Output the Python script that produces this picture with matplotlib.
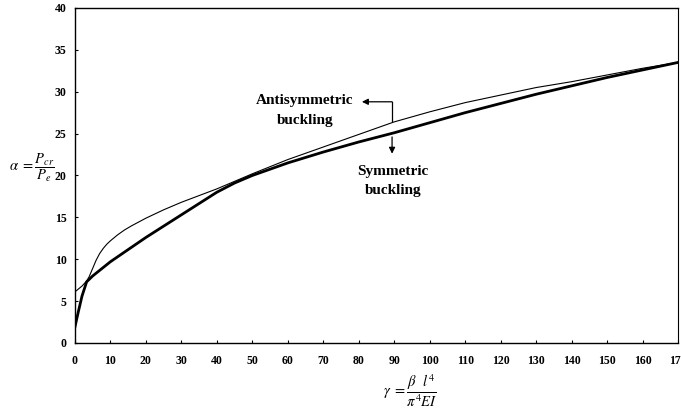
import numpy as np
import matplotlib.pyplot as plt

# symmetric buckling (thick curve)
gamma_sym = [0, 1, 2, 3.3, 5, 10, 20, 30, 40, 45, 50, 60, 70, 80, 90, 100, 110, 120, 130, 140, 150, 160, 170]
alpha_sym = [1.9, 3.8, 5.6, 7.3, 8.0, 9.7, 12.6, 15.3, 18.0, 19.1, 20.0, 21.5, 22.8, 24.0, 25.1, 26.3, 27.5,
             28.6, 29.7, 30.7, 31.7, 32.6, 33.5]

# antisymmetric buckling (thin curve)
gamma_anti = [0, 2, 3.3, 4, 5, 6, 7, 8, 9, 10, 12, 14, 16, 20, 25, 30, 35, 40, 50, 60, 70, 80, 90,
              100, 110, 120, 130, 140, 150, 160, 170]
alpha_anti = [6.1, 6.8, 7.4, 7.9, 8.9, 9.9, 10.7, 11.3, 11.8, 12.2, 12.9, 13.5, 14.0, 14.9, 15.9, 16.8,
              17.6, 18.4, 20.2, 21.9, 23.4, 24.9, 26.4, 27.6, 28.7, 29.6, 30.5, 31.2, 32.0, 32.8, 33.5]

x_ticks = list(range(0, 171, 10))
y_ticks = list(range(0, 41, 5))

tick_font = {'family': 'Liberation Serif', 'weight': 'bold', 'size': 8.5}
note_font = {'family': 'Liberation Serif', 'weight': 'bold', 'size': 11}
plt.rcParams['mathtext.fontset'] = 'stix'

fig = plt.figure(figsize=(6.81, 4.12), dpi=100)
ax = fig.add_axes([0.110, 0.1675, 0.8856, 0.8131])

ax.plot(gamma_anti, alpha_anti, color='black', linewidth=0.8)
ax.plot(gamma_sym, alpha_sym, color='black', linewidth=2.0)

ax.set_xlim(0, 170)
ax.set_ylim(0, 40)
ax.set_xticks(x_ticks)
ax.set_yticks(y_ticks)
ax.set_xticklabels([str(v) for v in x_ticks], fontdict=tick_font)
ax.set_yticklabels([str(v) for v in y_ticks], fontdict=tick_font)
ax.tick_params(direction='in', length=2, width=0.8)
ax.tick_params(axis='x', pad=9)
ax.tick_params(axis='y', pad=6)

for side in ['left', 'bottom', 'top']:
    ax.spines[side].set_linewidth(1.0)
ax.spines['right'].set_linewidth(0.8)
ax.spines['right'].set_linestyle((0, (2, 1)))

# labels on the curves
ax.text(64.8, 28.9, 'Antisymmetric', fontdict=note_font, ha='center', va='center')
ax.text(64.8, 26.6, 'buckling', fontdict=note_font, ha='center', va='center')
ax.text(89.6, 20.5, 'Symmetric', fontdict=note_font, ha='center', va='center')
ax.text(89.6, 18.2, 'buckling', fontdict=note_font, ha='center', va='center')

ax.plot([89.4, 89.4], [26.5, 28.8], color='black', linewidth=0.9)
ax.annotate('', xy=(80.9, 28.8), xytext=(89.4, 28.8),
            arrowprops=dict(arrowstyle='-|>', color='black', lw=0.9, mutation_scale=9,
                            shrinkA=0, shrinkB=0))
ax.annotate('', xy=(89.4, 22.6), xytext=(89.4, 24.6),
            arrowprops=dict(arrowstyle='-|>', color='black', lw=0.9, mutation_scale=9,
                            shrinkA=0, shrinkB=0))

fig.text(0.047, 0.592, r'$\alpha\ =\dfrac{P_{cr}}{P_{e}}$', fontsize=10.5, ha='center', va='center')
fig.text(0.602, 0.052, r'$\gamma\ =\dfrac{\beta\ \ l^{4}}{\pi^{4}EI}$', fontsize=10.5, ha='center', va='center')

fig.savefig('out.png', dpi=100)
